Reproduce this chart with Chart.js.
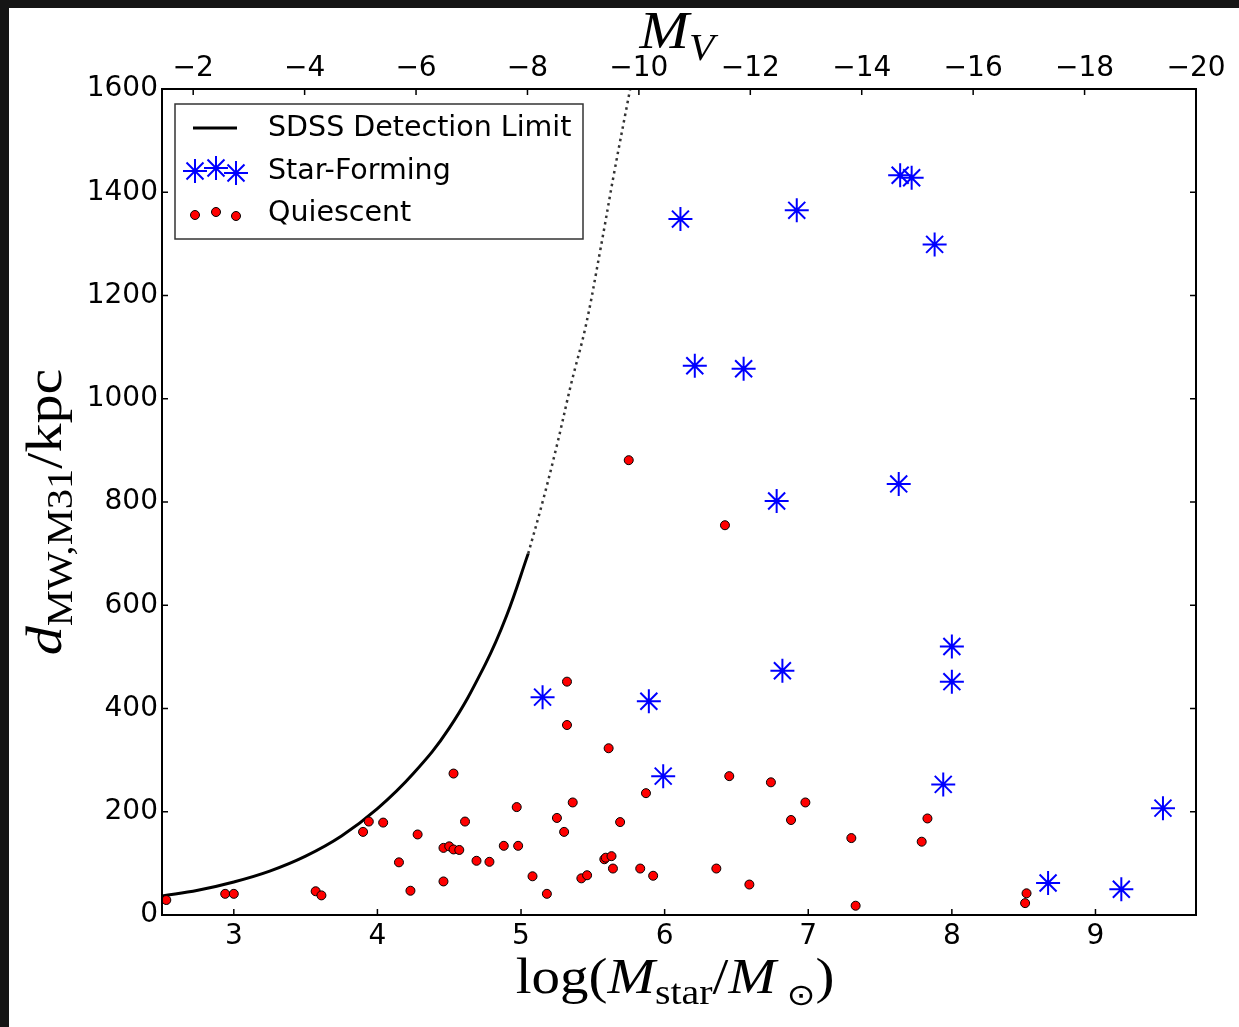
<!DOCTYPE html>
<html>
<head>
<meta charset="utf-8">
<script src="https://cdn.jsdelivr.net/npm/chart.js@4"></script>
<style>
  html, body { margin: 0; padding: 0; background: #151515; }
  #wrap { position: absolute; left: 9px; top: 8px; width: 1230px; height: 1019px; background: #fff; }
</style>
</head>
<body>
<div id="wrap"><canvas id="chart" width="1230" height="1019"></canvas></div>
<script>
// quiescent dwarfs: log stellar mass and distance (kpc)
const massQ = [2.53, 2.94, 3.00, 3.57, 3.61, 3.90, 3.94, 4.04, 4.15, 4.28, 4.23, 4.46, 4.50, 4.53,
  4.57, 4.46, 4.53, 4.61, 4.69, 4.78, 4.88, 4.97, 4.98, 5.08, 5.18, 5.25, 5.30, 5.32, 5.32, 5.36,
  5.42, 5.46, 5.58, 5.59, 5.63, 5.61, 5.64, 5.69, 5.83, 5.87, 5.92, 5.75, 6.36, 6.42, 6.45, 6.59,
  6.74, 6.88, 6.98, 7.30, 7.33, 7.79, 7.83, 8.51, 8.52];
const distQ = [29, 41, 41, 46, 38, 161, 181, 179, 102, 156, 47, 130, 133, 127,
  126, 65, 274, 181, 105, 103, 134, 209, 134, 75, 41, 188, 161, 452, 368, 218,
  71, 77, 108, 111, 114, 323, 90, 180, 90, 236, 76, 881, 90, 755, 269, 59,
  257, 184, 218, 149, 18, 142, 187, 23, 42];

// star-forming dwarfs
const massSF = [5.15, 5.89, 5.99, 6.82, 8.00, 8.00, 7.94, 9.47, 8.67, 9.18,
  6.11, 6.92, 7.64, 7.72, 7.88, 6.21, 6.55, 6.78, 7.63];
const distSF = [422, 414, 269, 473, 520, 452, 253, 207, 62, 50,
  1348, 1365, 1433, 1428, 1299, 1064, 1058, 802, 835];

// SDSS detection limit, solid part and dotted extrapolation
const limitMass = [2.5, 2.75, 3.0, 3.25, 3.5, 3.75, 4.0, 4.25, 4.5, 4.75, 4.9, 5.05];
const limitDist = [37, 48, 64, 85, 114, 153, 206, 274, 362, 485, 580, 700];
const extMass = [5.05, 5.15, 5.25, 5.35, 5.45, 5.55, 5.65, 5.76];
const extDist = [700, 800, 910, 1030, 1140, 1285, 1440, 1600];

// tick labels
const massTicks = [3, 4, 5, 6, 7, 8, 9];
const distTicks = [0, 200, 400, 600, 800, 1000, 1200, 1400, 1600];
const mvTicks = [-2, -4, -6, -8, -10, -12, -14, -16, -18, -20];

const toXY = (xs, ys) => xs.map((x, i) => ({ x: x, y: ys[i] }));

const SERIF = '"Liberation Serif", "DejaVu Serif", serif';
const TICK = 6;

// draws a row of text pieces centred on (x, y), stretched sideways a bit
function drawParts(ctx, parts, x, y, stretch) {
  let total = 0;
  parts.forEach(p => { ctx.font = p.font; p.w = ctx.measureText(p.text).width; total += p.w; });
  ctx.save();
  ctx.translate(x, y);
  ctx.scale(stretch, 1);
  let cx = -total / 2;
  ctx.textBaseline = 'alphabetic';
  ctx.textAlign = 'left';
  parts.forEach(p => {
    ctx.font = p.font;
    ctx.fillText(p.text, cx, p.dy || 0);
    cx += p.w;
  });
  ctx.restore();
}

const decorations = {
  id: 'decorations',
  afterDraw(chart) {
    const { ctx, chartArea: a, scales } = chart;
    ctx.save();
    ctx.strokeStyle = '#000';
    ctx.lineWidth = 2;
    ctx.strokeRect(a.left, a.top, a.right - a.left, a.bottom - a.top);

    // inward tick marks on all four sides
    ctx.lineWidth = 1.5;
    ctx.beginPath();
    scales.x.ticks.forEach(t => {
      const px = scales.x.getPixelForValue(t.value);
      ctx.moveTo(px, a.bottom); ctx.lineTo(px, a.bottom - TICK);
    });
    scales.mv.ticks.forEach(t => {
      const px = scales.mv.getPixelForValue(t.value);
      ctx.moveTo(px, a.top); ctx.lineTo(px, a.top + TICK);
    });
    scales.y.ticks.forEach(t => {
      const py = scales.y.getPixelForValue(t.value);
      ctx.moveTo(a.left, py); ctx.lineTo(a.left + TICK, py);
      ctx.moveTo(a.right, py); ctx.lineTo(a.right - TICK, py);
    });
    ctx.stroke();

    // axis titles
    ctx.fillStyle = '#000';
    const midX = (a.left + a.right) / 2;
    const midY = (a.top + a.bottom) / 2;
    drawParts(ctx, [
      { text: 'log(', font: '50px ' + SERIF },
      { text: 'M', font: 'italic 50px ' + SERIF },
      { text: 'star', font: '35px ' + SERIF, dy: 11 },
      { text: '/', font: '50px ' + SERIF },
      { text: 'M', font: 'italic 50px ' + SERIF },
      { text: ' \u2299', font: '30px "DejaVu Sans"', dy: 12 },
      { text: ')', font: '50px ' + SERIF }
    ], midX - 4, 985, 1.14);
    drawParts(ctx, [
      { text: 'M', font: 'italic 53px ' + SERIF },
      { text: 'V', font: 'italic 37px ' + SERIF, dy: 12 }
    ], midX - 2, 40, 1.12);
    ctx.save();
    ctx.translate(52, midY + 10);
    ctx.rotate(-Math.PI / 2);
    drawParts(ctx, [
      { text: 'd', font: 'italic 50px ' + SERIF },
      { text: 'MW,M31', font: '35px ' + SERIF, dy: 11 },
      { text: '/kpc', font: '50px ' + SERIF }
    ], 0, 0, 1.16);
    ctx.restore();

    // legend
    ctx.lineWidth = 1.5;
    ctx.strokeStyle = '#333';
    ctx.strokeRect(166, 96, 408, 135);
    ctx.strokeStyle = '#000';
    ctx.lineWidth = 3;
    ctx.beginPath();
    ctx.moveTo(184, 120); ctx.lineTo(228, 120);
    ctx.stroke();
    const hx = [186, 207, 227];
    const sy = [163, 160, 165];
    const qy = [207, 204, 208];
    ctx.strokeStyle = '#0000ff';
    ctx.lineWidth = 2;
    hx.forEach((x, i) => Chart.helpers.drawPoint(ctx, { pointStyle: 'star', radius: 12, borderWidth: 2 }, x, sy[i]));
    ctx.fillStyle = '#ff0000';
    ctx.strokeStyle = '#000';
    ctx.lineWidth = 1;
    hx.forEach((x, i) => Chart.helpers.drawPoint(ctx, { pointStyle: 'circle', radius: 4.5, borderWidth: 1 }, x, qy[i]));
    ctx.fillStyle = '#000';
    ctx.font = '28.5px "DejaVu Sans"';
    ctx.textBaseline = 'middle';
    ctx.textAlign = 'left';
    ctx.fillText('SDSS Detection Limit', 259, 121);
    ctx.fillText('Star-Forming', 259, 164);
    ctx.fillText('Quiescent', 259, 206);
    ctx.restore();
  }
};

const tickFont = { family: '"DejaVu Sans"', size: 28 };

new Chart(document.getElementById('chart'), {
  type: 'scatter',
  data: {
    datasets: [
      {
        label: 'Star-Forming',
        data: toXY(massSF, distSF),
        pointStyle: 'star',
        pointRadius: 12,
        borderColor: '#0000ff',
        backgroundColor: '#0000ff',
        pointBorderWidth: 2
      },
      {
        label: 'Quiescent',
        data: toXY(massQ, distQ),
        pointStyle: 'circle',
        pointRadius: 4.5,
        backgroundColor: '#ff0000',
        borderColor: '#000',
        pointBorderWidth: 1
      },
      {
        label: 'SDSS Detection Limit',
        data: toXY(limitMass, limitDist),
        showLine: true,
        borderColor: '#000',
        borderWidth: 3,
        pointRadius: 0,
        tension: 0.4
      },
      {
        label: 'extrapolation',
        data: toXY(extMass, extDist),
        showLine: true,
        borderColor: '#333',
        borderWidth: 2.5,
        borderDash: [2.5, 4],
        pointRadius: 0,
        tension: 0.4
      }
    ]
  },
  options: {
    responsive: false,
    animation: false,
    devicePixelRatio: 1,
    layout: { padding: { left: 0, top: 0, right: 43, bottom: 0 } },
    plugins: { legend: { display: false }, tooltip: { enabled: false } },
    scales: {
      x: {
        type: 'linear', position: 'bottom', min: 2.5, max: 9.7,
        afterBuildTicks: s => { s.ticks = massTicks.map(v => ({ value: v })); },
        afterFit: s => { s.height = 112; },
        grid: { display: false, drawTicks: false },
        border: { display: false },
        ticks: { font: tickFont, color: '#000', padding: 5, maxRotation: 0, autoSkip: false,
          callback: v => String(v) }
      },
      mv: {
        type: 'linear', position: 'top', min: -20, max: -1.44, reverse: true,
        afterBuildTicks: s => { s.ticks = mvTicks.map(v => ({ value: v })); },
        afterFit: s => { s.height = 81; },
        grid: { display: false, drawTicks: false },
        border: { display: false },
        ticks: { font: tickFont, color: '#000', padding: 3, maxRotation: 0, autoSkip: false,
          callback: v => '\u2212' + Math.abs(v) }
      },
      y: {
        type: 'linear', position: 'left', min: 0, max: 1600,
        afterBuildTicks: s => { s.ticks = distTicks.map(v => ({ value: v })); },
        afterFit: s => { s.width = 153; },
        grid: { display: false, drawTicks: false },
        border: { display: false },
        ticks: { font: tickFont, color: '#000', padding: 4, autoSkip: false,
          callback: v => String(v) }
      }
    }
  },
  plugins: [decorations]
});
</script>
</body>
</html>
